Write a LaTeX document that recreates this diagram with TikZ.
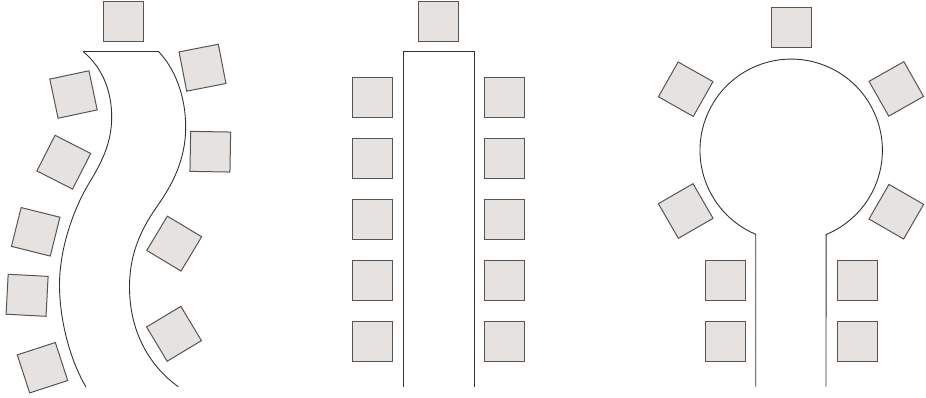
\documentclass[tikz,border=0pt]{standalone}
\definecolor{seatfill}{RGB}{230,226,224}
\definecolor{seatline}{RGB}{85,85,85}
\definecolor{tableline}{RGB}{50,50,50}
\tikzset{
  seat/.style={rectangle, draw=seatline, fill=seatfill, line width=1pt, minimum size=40pt, inner sep=0pt},
  tableedge/.style={draw=tableline, line width=0.9pt}
}
\begin{document}
\begin{tikzpicture}[x=1pt,y=-1pt]
\useasboundingbox (0,0) rectangle (926,397);
% ---------- left: serpentine table ----------
\draw[tableedge] (83.3,51.7) -- (158.7,51.7);
\draw[tableedge] (83.3,51.7) .. controls (103,68) and (111.7,92) .. (111.7,117)
  .. controls (111.7,145) and (100,165) .. (88,185)
  .. controls (76,205) and (59.5,245) .. (59.5,285)
  .. controls (59.5,320) and (70,360) .. (86,387);
\draw[tableedge] (158.7,51.7) .. controls (176,70) and (185.7,98) .. (185.7,127)
  .. controls (185.7,160) and (172,185) .. (158,205)
  .. controls (144,225) and (129.5,250) .. (129.5,287)
  .. controls (129.5,330) and (148,365) .. (178.3,386.7);
\node[seat] (a0) at (123.3,21) {};
\node[seat, rotate=12] (a1) at (73.5,94.5) {};
\node[seat, rotate=-27] (a2) at (63.8,162.2) {};
\node[seat, rotate=-14] (a3) at (35.7,231.8) {};
\node[seat, rotate=-3] (a4) at (27.1,295.3) {};
\node[seat, rotate=18] (a5) at (42.5,367.7) {};
\node[seat, rotate=11] (a6) at (202.5,67.7) {};
\node[seat, rotate=-1] (a7) at (210.3,151.7) {};
\node[seat, rotate=-31] (a8) at (174.2,243.6) {};
\node[seat, rotate=31] (a9) at (174,333.8) {};
% ---------- middle: straight table ----------
\draw[tableedge] (403.3,386.7) -- (403.3,51.7) -- (474,51.7) -- (474,386.7);
\node[seat] (b0) at (438.7,21.2) {};
\foreach \i/\y in {1/97.3,2/158.3,3/219.5,4/280.5,5/341.5}{
  \node[seat] (bl\i) at (372.7,\y) {};
  \node[seat] (br\i) at (504.5,\y) {};
}
% ---------- right: keyhole table ----------
\draw[tableedge] (755.7,386.7) -- (755.7,234.3)
  arc[start angle=112.9, end angle=427.5, radius=91.2] -- (826,386.7);
\node[seat] (c0) at (791.2,27.8) {};
\node[seat, rotate=-29.5] (c1) at (685.7,89.2) {};
\node[seat, rotate=29.5] (c2) at (896.3,88.9) {};
\node[seat, rotate=30] (c3) at (685.7,211) {};
\node[seat, rotate=-30] (c4) at (896.3,211.7) {};
\node[seat] (c5) at (725.3,280.3) {};
\node[seat] (c6) at (857.2,280.3) {};
\node[seat] (c7) at (725.3,341.3) {};
\node[seat] (c8) at (857.2,341.3) {};
\end{tikzpicture}
\end{document}
